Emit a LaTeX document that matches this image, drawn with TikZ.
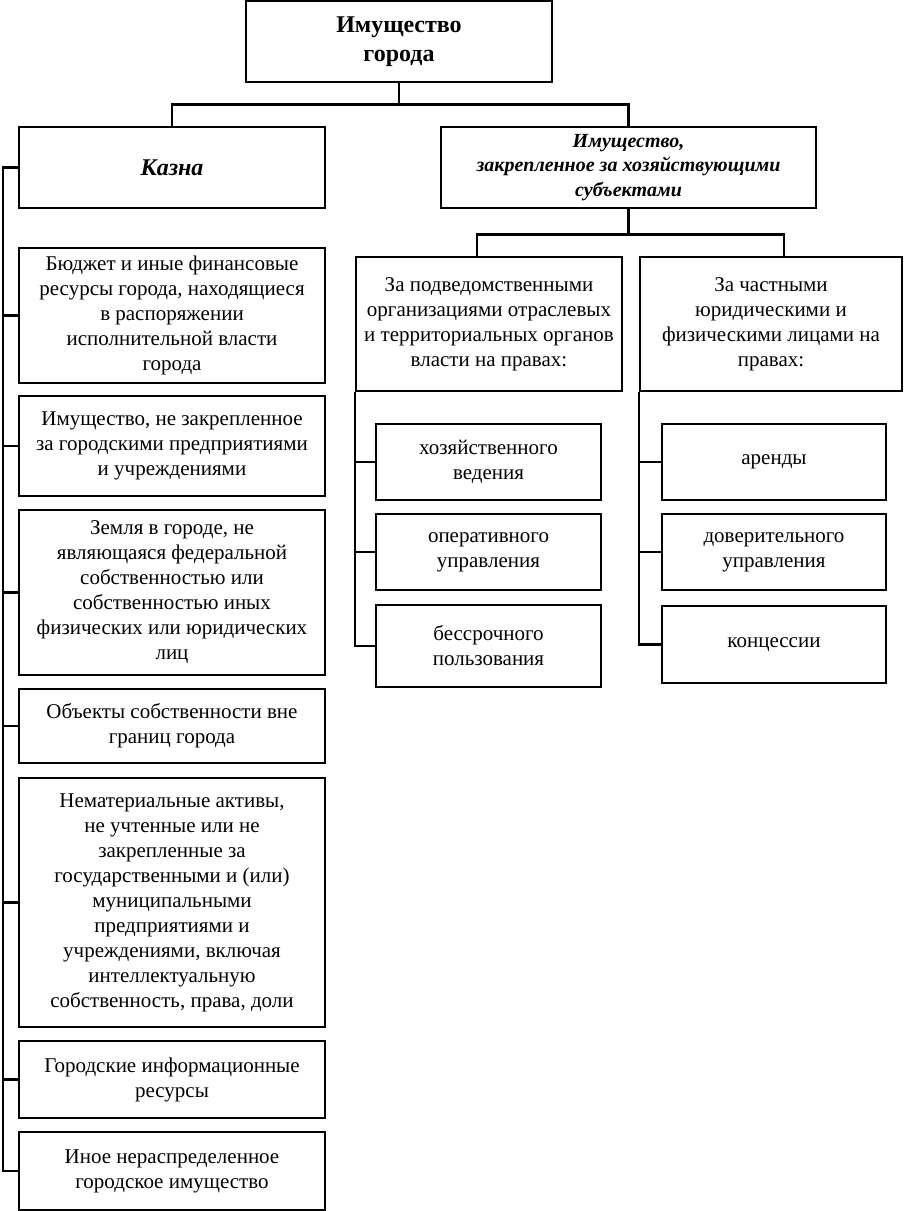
\documentclass[tikz,border=0pt]{standalone}
\usepackage{fontspec}
\setmainfont{Liberation Serif}
\begin{document}
\begin{tikzpicture}[x=1pt,y=-1pt,line width=2.5pt,
  box/.style={draw,rectangle,line width=2.5pt,inner sep=1pt,align=center,font=\fontsize{21}{25}\selectfont},
  conn/.style={draw,line width=2.5pt}]
\useasboundingbox (0,0) rectangle (906,1211);
% top
\node[box,minimum width=306,minimum height=81,font=\bfseries\fontsize{24}{29}\selectfont] (top) at (399,41.5) {Имущество\\города};
\node[box,minimum width=306,minimum height=81,font=\bfseries\itshape\fontsize{24}{26}\selectfont] (kazna) at (172,167.5) {Казна};
\node[box,minimum width=375,minimum height=81,font=\bfseries\itshape\fontsize{20}{24.5}\selectfont] (subj) at (628.5,167.5) {Имущество,\\закрепленное за хозяйствующими\\субъектами};
% middle columns
\node[box,minimum width=266,minimum height=134] (pod) at (489,324) {За подведомственными\\организациями отраслевых\\и территориальных органов\\власти на правах:};
\node[box,minimum width=262,minimum height=134] (chast) at (771,324) {За частными\\юридическими и\\физическими лицами на\\правах:};
\node[box,minimum width=225,minimum height=76] (hoz) at (488.5,462) {хозяйственного\\ведения};
\node[box,minimum width=225,minimum height=76] (oper) at (488.5,552) {оперативного\\управления};
\node[box,minimum width=225,minimum height=82] (bess) at (488.5,646) {бессрочного\\пользования};
\node[box,minimum width=224,minimum height=76] (arend) at (774,462) {аренды};
\node[box,minimum width=224,minimum height=76] (dover) at (774,552) {доверительного\\управления};
\node[box,minimum width=224,minimum height=77] (konc) at (774,644.5) {концессии};
% left column
\node[box,minimum width=306,minimum height=135] (b1) at (172,315.5) {Бюджет и иные финансовые\\ресурсы города, находящиеся\\в распоряжении\\исполнительной власти\\города};
\node[box,minimum width=306,minimum height=100] (b2) at (172,446) {Имущество, не закрепленное\\за городскими предприятиями\\и учреждениями};
\node[box,minimum width=306,minimum height=165] (b3) at (172,592.5) {Земля в городе, не\\являющаяся федеральной\\собственностью или\\собственностью иных\\физических или юридических\\лиц};
\node[box,minimum width=306,minimum height=74] (b4) at (172,726) {Объекты собственности вне\\границ города};
\node[box,minimum width=306,minimum height=249] (b5) at (172,902.5) {Нематериальные активы,\\не учтенные или не\\закрепленные за\\государственными и (или)\\муниципальными\\предприятиями и\\учреждениями, включая\\интеллектуальную\\собственность, права, доли};
\node[box,minimum width=306,minimum height=77] (b6) at (172,1079.5) {Городские информационные\\ресурсы};
\node[box,minimum width=306,minimum height=78] (b7) at (172,1171) {Иное нераспределенное\\городское имущество};
% connectors
\coordinate (j1) at ([yshift=-21pt]top.south);
\coordinate (j2) at ([yshift=-25pt]subj.south);
\coordinate (lt) at (3,0);
\draw[conn] (top.south) -- (j1);
\draw[conn] (kazna.north) |- (j1) -| (subj.north);
\draw[conn] (subj.south) -- (j2);
\draw[conn] ([xshift=-12pt]pod.north) |- (j2) -| ([xshift=13pt]chast.north);
% left trunk
\draw[conn] (kazna.west) -- (kazna.west -| lt) -- (b7.west -| lt) -- (b7.west);
\foreach \b in {b1,b2,b3,b4,b5,b6} \draw[conn] (\b.west -| lt) -- (\b.west);
% middle trunk
\draw[conn] (pod.south west) |- (bess.west);
\draw[conn] (hoz.west -| pod.west) -- (hoz.west);
\draw[conn] (oper.west -| pod.west) -- (oper.west);
% right trunk
\draw[conn] (chast.south west) |- (konc.west);
\draw[conn] (arend.west -| chast.west) -- (arend.west);
\draw[conn] (dover.west -| chast.west) -- (dover.west);
\end{tikzpicture}
\end{document}
